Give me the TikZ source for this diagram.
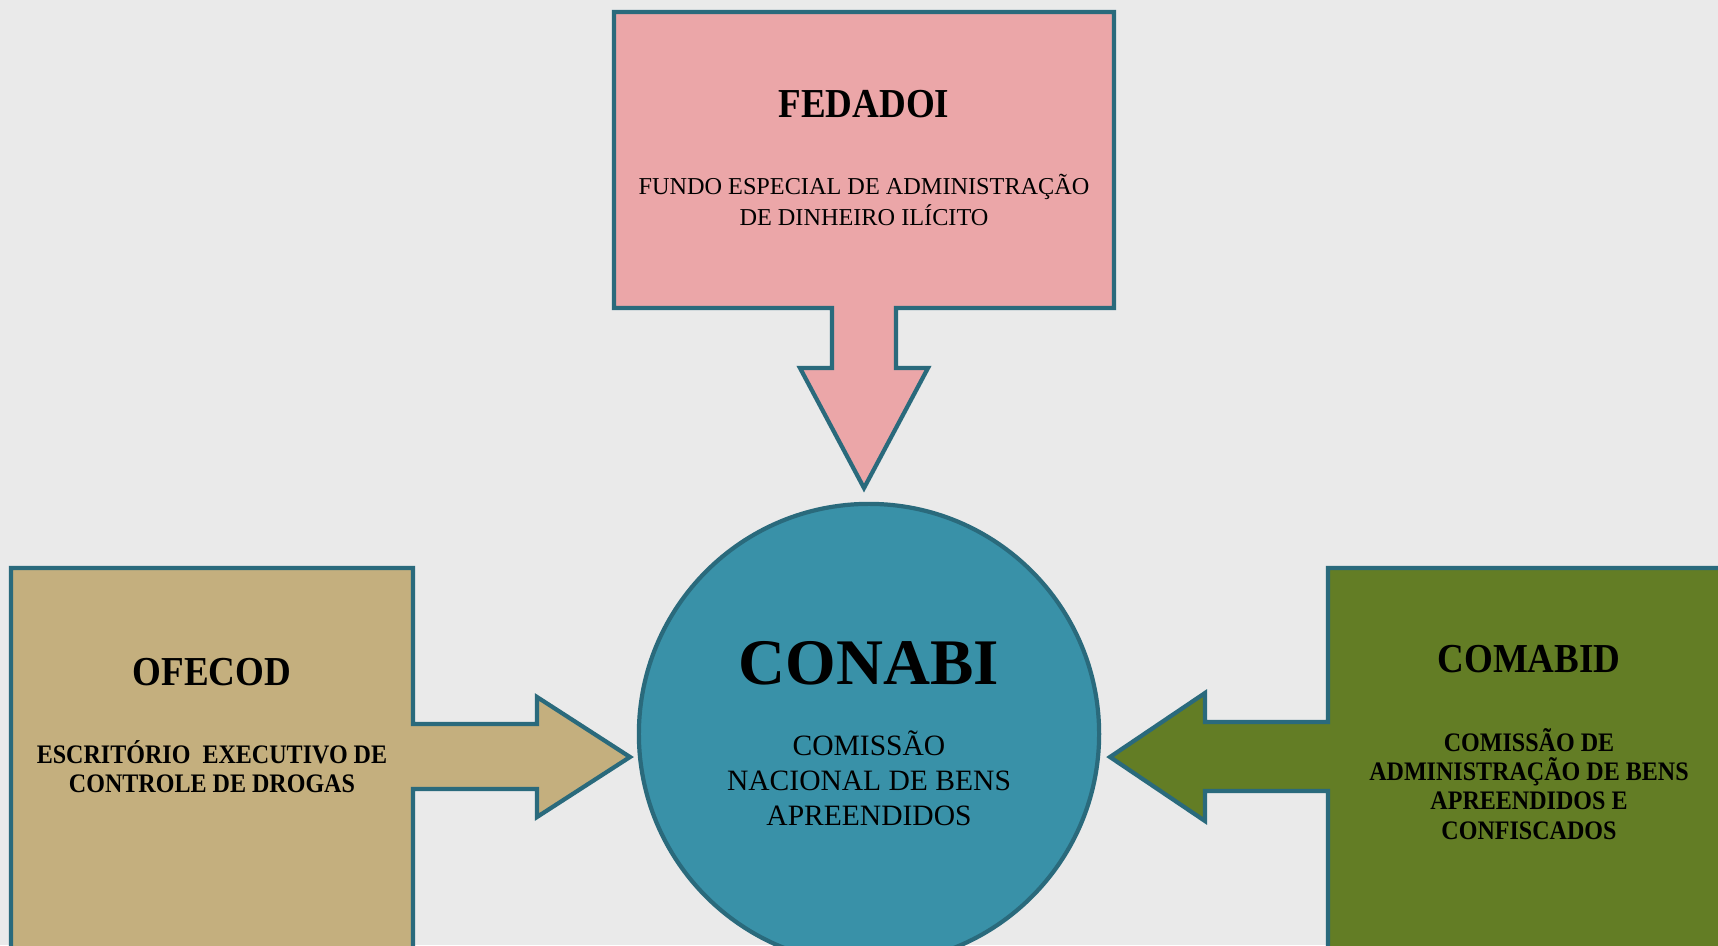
\documentclass[tikz,border=0pt]{standalone}
\usepackage{fontspec}
\setmainfont{Liberation Serif}
\newfontfamily\narrowserif[FakeStretch=0.9]{Liberation Serif}
\usetikzlibrary{positioning}
\definecolor{edge}{RGB}{42,106,124}
\definecolor{rose}{RGB}{235,166,168}
\definecolor{sea}{RGB}{57,145,168}
\definecolor{sand}{RGB}{196,175,126}
\definecolor{moss}{RGB}{99,125,37}
\definecolor{paper}{RGB}{234,234,234}
\tikzset{
	callout/.style={draw=edge,line width=1.2pt,line join=miter},
	hub/.style={circle,draw=edge,line width=1.2pt,fill=sea,minimum size=4.6cm,inner sep=0pt},
	head/.style={inner sep=0pt,font=\narrowserif\bfseries\fontsize{11.7}{13}\selectfont},
	sub/.style={inner sep=0pt,align=center,font=\fontsize{6.9}{8.8}\selectfont},
	subbf/.style={inner sep=0pt,align=center,font=\narrowserif\bfseries\fontsize{7.6}{8.3}\selectfont}
}
\begin{document}
\begin{tikzpicture}[x=0.01cm,y=-0.01cm]
	\fill[paper] (0,0) rectangle (1718,945);
	\clip (0,0) rectangle (1718,945);
	\draw[callout,fill=rose] (614,12) -- (1114,12) -- (1114,308) -- (896,308) -- (896,368) -- (928,368)
		-- (864,488) -- (800,368) -- (832,368) -- (832,308) -- (614,308) -- cycle;
	\draw[callout,fill=sand] (11,568) -- (413,568) -- (413,724) -- (537,724) -- (537,697) -- (630,757)
		-- (537,817) -- (537,789) -- (413,789) -- (413,960) -- (11,960) -- cycle;
	\draw[callout,fill=moss] (1328,568) -- (1730,568) -- (1730,960) -- (1328,960) -- (1328,791) -- (1205,791)
		-- (1205,821) -- (1110,757) -- (1205,693) -- (1205,722) -- (1328,722) -- cycle;
	\node[hub] (conabi) at (869,734) {};
	\node[head] (fedadoi) at (864,104) {FEDADOI};
	\node[sub] (fedadoitxt) at (864,200) {FUNDO ESPECIAL DE ADMINISTRAÇÃO\\DE DINHEIRO ILÍCITO};
	\node[head,font=\bfseries\fontsize{18.5}{22}\selectfont] (conabititle) at (869,663) {CONABI};
	\node[sub,font=\fontsize{8.4}{10}\selectfont] (conabitxt) at (869,778) {COMISSÃO\\NACIONAL DE BENS\\APREENDIDOS};
	\node[head] (ofecod) at (212,672) {OFECOD};
	\node[subbf] (ofecodtxt) at (212,767) {ESCRITÓRIO\ \ EXECUTIVO DE\\CONTROLE DE DROGAS};
	\node[head] (comabid) at (1529,659) {COMABID};
	\node[subbf] (comabidtxt) at (1529,784) {COMISSÃO DE\\ADMINISTRAÇÃO DE BENS\\APREENDIDOS E\\CONFISCADOS};
\end{tikzpicture}
\end{document}
